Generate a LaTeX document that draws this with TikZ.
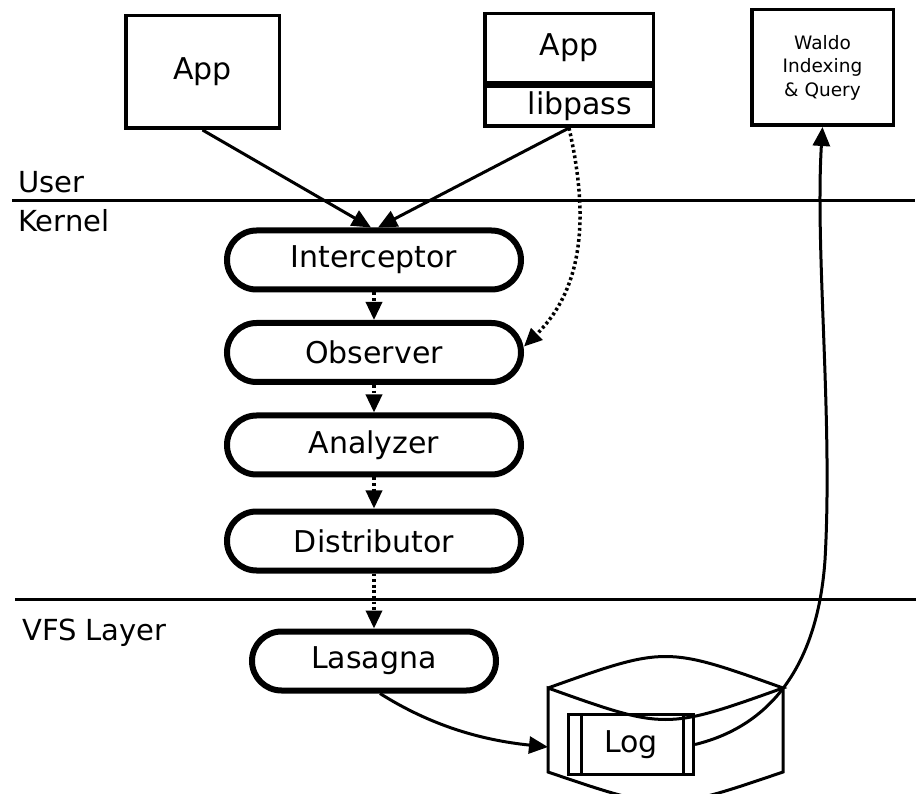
\documentclass[tikz,border=0pt]{standalone}
\usepackage{fontspec}
\setmainfont{DejaVu Sans}
\usetikzlibrary{arrows.meta,shapes.misc}
\begin{document}
\begin{tikzpicture}[x=1pt,y=-1pt,
  box/.style={draw,line width=3.5pt,inner sep=0pt,font=\fontsize{30}{36}\selectfont},
  stage/.style={draw,rounded rectangle,line width=6pt,minimum width=294pt,minimum height=59pt,inner sep=0pt,fill=white,font=\fontsize{30}{36}\selectfont},
  lbl/.style={anchor=base west,inner sep=0pt,font=\fontsize{29}{35}\selectfont},
  conn/.style={line width=3pt,-{Triangle[length=19pt,width=17pt]}},
  dotconn/.style={line width=3.5pt,dash pattern=on 2.8pt off 2.8pt,-{Triangle[length=18pt,width=16pt]}},
  sepline/.style={line width=3pt}
]
\useasboundingbox (0,0) rectangle (922,794);

% separators and layer labels
\draw[sepline] (12,201) -- (915,201);
\draw[sepline] (15,599) -- (916,599);
\node[lbl] (user) at (18,193) {User};
\node[lbl] (kernel) at (18,232) {Kernel};
\node[lbl] (vfs) at (22,640) {VFS Layer};

% user-space boxes
\node[box,minimum width=153.5pt,minimum height=112.5pt] (app1) at (202.5,72) {App};
\node[box,minimum width=168.5pt,minimum height=69pt] (app2) at (569,48) {\raisebox{3pt}{App}};
\node[box,minimum width=168.5pt,minimum height=40pt] (lib) at (569,106.25) {\hspace*{22pt}libpass};
\node[box,minimum width=141.5pt,minimum height=115.5pt,align=center,font=\fontsize{18.5}{23.5}\selectfont] (waldo) at (822.5,67.5) {Waldo\\Indexing\\\& Query};

% kernel stages
\node[stage] (int) at (374,260) {Interceptor};
\node[stage] (obs) at (374,352.5) {Observer};
\node[stage] (ana) at (374,445) {Analyzer};
\node[stage] (dist) at (374,541) {Distributor};
\node[stage,minimum width=244pt] (las) at (374,661) {Lasagna};

% storage cylinder with log
\draw[line width=3pt,line join=miter] (548,688) .. controls (665.5,646) .. (783,688) .. controls (665.5,730) .. (548,688) -- (548,772) .. controls (665.5,812) .. (783,772) -- (783,688);
\coordinate (cyl) at (548,747);
\node[box,line width=3pt,minimum width=125pt,minimum height=60pt] (log) at (631,744.5) {Log};
\draw[line width=3pt] ([xshift=14pt]log.north west) -- ([xshift=14pt]log.south west);
\draw[line width=3pt] ([xshift=-12pt]log.north east) -- ([xshift=-12pt]log.south east);

% connectors
\draw[conn] (app1.south) -- ([xshift=-3pt]int.north);
\draw[conn] (lib.south) -- ([xshift=4pt]int.north);
\draw[dotconn] (lib.south) .. controls (590,220) and (582,290) .. ([yshift=6pt]obs.east);
\draw[dotconn] (int.south) -- (obs.north);
\draw[dotconn] (obs.south) -- (ana.north);
\draw[dotconn] (ana.south) -- (dist.north);
\draw[dotconn] (dist.south) -- (las.north);
\draw[conn] ([xshift=6pt]las.south) .. controls (430,725) and (480,740) .. (cyl);
\draw[conn] (log.east) .. controls (775,725) and (818,660) .. (825,560) .. controls (833,420) and (815,250) .. (waldo.south);
\end{tikzpicture}
\end{document}
